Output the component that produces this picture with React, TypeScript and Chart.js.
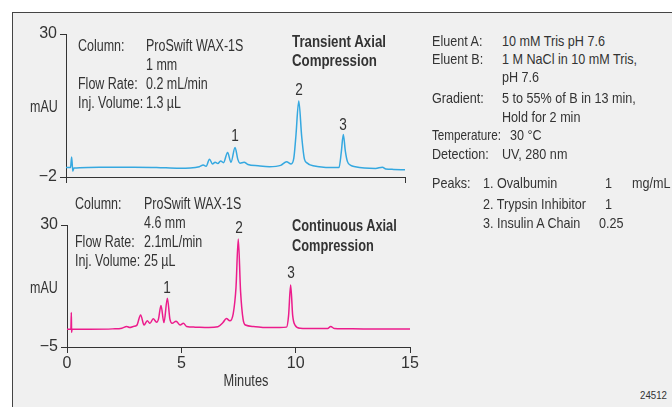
import React, { useEffect, useRef } from "react";
import { Chart, registerables } from "chart.js";

Chart.register(...registerables);

// ---- Data ----
const topTimes = [0, 0.2, 0.25, 0.3, 0.35, 1, 2, 3, 4, 5, 5.5, 5.9, 6.07, 6.2, 6.35, 6.48, 6.6, 6.72, 6.84, 6.97, 7.15, 7.3, 7.48, 7.6, 7.7, 7.88, 8.05, 8.5, 9.0, 9.5, 9.76, 9.96, 10.08, 10.17, 10.3, 10.43, 10.55, 10.68, 10.8, 11.2, 11.8, 12.08, 12.18, 12.27, 12.36, 12.45, 12.6, 12.8, 13.2, 13.7, 14.0, 14.15, 14.5, 15];
const topValues = [0.1, 0.1, 2.5, -0.7, 0.0, 0.15, 0.2, 0.2, 0.15, -0.05, 0.0, 0.3, 0.7, 0.4, 2.0, 0.9, 1.3, 1.0, 1.6, 1.2, 3.5, 1.3, 4.6, 2.0, 1.1, 1.3, 0.8, 0.5, 0.3, 0.6, 1.4, 0.9, 2.2, 7.0, 15.0, 7.0, 2.0, 1.1, 0.7, 0.3, 0.1, 0.1, 3.5, 7.5, 3.8, 1.5, 0.6, 0.3, 0.0, -0.1, 0.2, -0.2, -0.3, -0.4];

const bottomTimes = [0, 0.17, 0.19, 0.2, 0.22, 0.3, 1, 2, 2.4, 2.61, 2.75, 2.9, 3.05, 3.22, 3.37, 3.51, 3.63, 3.77, 3.92, 4.0, 4.11, 4.24, 4.39, 4.5, 4.6, 4.77, 4.95, 5.09, 5.23, 5.6, 6.2, 6.6, 6.82, 6.97, 7.12, 7.27, 7.39, 7.49, 7.59, 7.7, 7.8, 8.15, 8.7, 9.3, 9.6, 9.69, 9.78, 9.87, 9.97, 10.2, 10.8, 11.4, 11.53, 11.7, 12.5, 13.5, 15];
const bottomValues = [0.1, 0.1, 4.9, -0.8, 0.1, 0.1, 0.1, 0.2, 0.4, 0.9, 0.6, 0.9, 1.2, 4.2, 1.3, 2.5, 1.8, 3.1, 2.1, 3.0, 6.9, 2.0, 9.0, 3.0, 1.8, 2.4, 1.3, 1.8, 0.9, 0.7, 0.6, 0.8, 2.0, 3.2, 2.5, 4.6, 12.0, 26.0, 11.0, 3.0, 1.3, 0.9, 0.6, 0.6, 0.7, 4.0, 12.8, 4.0, 1.3, 0.4, 0.3, 0.3, 0.9, 0.3, 0.2, 0.15, 0.15];

const topYTicks = [-2, 30];
const topXTicks = [0, 15];
const bottomYTicks = [-5, 30];
const bottomXTicks = [0, 5, 10, 15];

const FONT = '"Liberation Sans", Arial, sans-serif';
const AXIS = "#333333";

function fmt(v: number) {
  return v < 0 ? "\u2212" + Math.abs(v) : String(v);
}

function makeConfig(
  times: number[],
  values: number[],
  color: string,
  yMin: number,
  yMax: number,
  yTicks: number[],
  xTicks: number[],
  showXLabels: boolean,
  yWidth: number,
  xHeight: number,
  padding: { left: number; right: number; top: number; bottom: number }
): any {
  return {
    type: "line",
    data: {
      datasets: [
        {
          data: times.map((t, i) => ({ x: t, y: values[i] })),
          borderColor: color,
          borderWidth: 1.5,
          pointRadius: 0,
          fill: false,
          cubicInterpolationMode: "monotone",
        },
      ],
    },
    options: {
      responsive: false,
      animation: false,
      devicePixelRatio: 1,
      layout: { padding },
      plugins: { legend: { display: false }, tooltip: { enabled: false } },
      scales: {
        x: {
          type: "linear",
          min: 0,
          max: 15,
          afterBuildTicks: (s: any) => {
            s.ticks = xTicks.map((v) => ({ value: v }));
          },
          afterFit: (s: any) => {
            s.height = xHeight;
          },
          grid: { drawOnChartArea: false, drawTicks: true, tickLength: 6, color: AXIS, lineWidth: 1 },
          border: { display: true, color: AXIS, width: 1 },
          ticks: {
            display: true,
            padding: 1,
            color: AXIS,
            font: { family: FONT, size: 16 },
            maxRotation: 0,
            autoSkip: false,
            callback: (v: any) => (showXLabels ? fmt(Number(v)) : ""),
          },
        },
        y: {
          type: "linear",
          min: yMin,
          max: yMax,
          afterBuildTicks: (s: any) => {
            s.ticks = yTicks.map((v) => ({ value: v }));
          },
          afterFit: (s: any) => {
            s.width = yWidth;
          },
          grid: { drawOnChartArea: false, drawTicks: true, tickLength: 6, color: AXIS, lineWidth: 1 },
          border: { display: true, color: AXIS, width: 1 },
          ticks: {
            padding: 3,
            color: AXIS,
            font: { family: FONT, size: 16 },
            autoSkip: false,
            callback: (v: any) => fmt(Number(v)),
          },
        },
      },
    },
  };
}

function T(props: { x: number; y: number; children: React.ReactNode; bold?: boolean; size?: number; center?: boolean; sx?: number }) {
  const s = props.sx ?? 0.78;
  const style: React.CSSProperties = {
    position: "absolute",
    fontFamily: FONT,
    color: "#333",
    whiteSpace: "nowrap",
    lineHeight: "19px",
    left: props.x,
    top: props.y,
    fontWeight: props.bold ? "bold" : "normal",
    fontSize: props.size ?? 16,
    transform: props.center ? `translateX(-50%) scaleX(${s})` : `scaleX(${s})`,
    transformOrigin: props.center ? "50% 50%" : "0 0",
  };
  return <div style={style}>{props.children}</div>;
}

const RS = 0.84;

export default function App() {
  const topRef = useRef<HTMLCanvasElement | null>(null);
  const botRef = useRef<HTMLCanvasElement | null>(null);

  useEffect(() => {
    const c1 = new Chart(
      topRef.current as HTMLCanvasElement,
      makeConfig(topTimes, topValues, "#35a8e0", -2, 30, topYTicks, topXTicks, false, 66, 7, { left: 0, right: 15, top: 34, bottom: 16 })
    );
    const c2 = new Chart(
      botRef.current as HTMLCanvasElement,
      makeConfig(bottomTimes, bottomValues, "#ec1c8c", -5, 30, bottomYTicks, bottomXTicks, true, 67, 30, { left: 0, right: 20, top: 35, bottom: 30 })
    );
    return () => {
      c1.destroy();
      c2.destroy();
    };
  }, []);

  return (
    <div style={{ position: "fixed", left: 0, top: 0, width: 672, height: 407, background: "#fff", overflow: "hidden" }}>
      <div
        style={{
          position: "absolute",
          left: 12,
          top: 12,
          width: 700,
          height: 420,
          background: "#f0f0f0",
          borderLeft: "1px solid #444",
          borderTop: "1px solid #444",
        }}
      />
      <canvas ref={topRef} width={420} height={200} style={{ position: "absolute", left: 0, top: 0, width: 420, height: 200 }} />
      <canvas ref={botRef} width={430} height={217} style={{ position: "absolute", left: 0, top: 190, width: 430, height: 217 }} />

      {/* Top chart annotations */}
      <T x={30} y={97}>mAU</T>
      <T x={78} y={36}>Column:</T>
      <T x={146} y={36}>ProSwift WAX-1S</T>
      <T x={146} y={55}>1 mm</T>
      <T x={78} y={74}>Flow Rate:</T>
      <T x={146} y={74}>0.2 mL/min</T>
      <T x={78} y={93}>Inj. Volume:</T>
      <T x={146} y={93}>1.3 µL</T>
      <T x={292} y={32} bold sx={0.83}>Transient Axial</T>
      <T x={292} y={51} bold sx={0.83}>Compression</T>
      <T x={235} y={126} center sx={0.85}>1</T>
      <T x={299} y={80} center sx={0.85}>2</T>
      <T x={343} y={115} center sx={0.85}>3</T>

      {/* Bottom chart annotations */}
      <T x={30} y={278}>mAU</T>
      <T x={75} y={194}>Column:</T>
      <T x={144} y={194}>ProSwift WAX-1S</T>
      <T x={144} y={213}>4.6 mm</T>
      <T x={75} y={232}>Flow Rate:</T>
      <T x={144} y={232}>2.1mL/min</T>
      <T x={75} y={251}>Inj. Volume:</T>
      <T x={144} y={251}>25 µL</T>
      <T x={292} y={216} bold sx={0.8}>Continuous Axial</T>
      <T x={292} y={236} bold sx={0.8}>Compression</T>
      <T x={167} y={278} center sx={0.85}>1</T>
      <T x={239} y={218} center sx={0.85}>2</T>
      <T x={291} y={263} center sx={0.85}>3</T>
      <T x={246} y={371} center sx={0.8}>Minutes</T>

      {/* Conditions */}
      <T x={432} y={31} size={15} sx={RS}>Eluent A:</T>
      <T x={502} y={31} size={15} sx={RS}>10 mM Tris pH 7.6</T>
      <T x={432} y={49} size={15} sx={RS}>Eluent B:</T>
      <T x={502} y={49} size={15} sx={RS}>1 M NaCl in 10 mM Tris,</T>
      <T x={502} y={67} size={15} sx={RS}>pH 7.6</T>
      <T x={432} y={88} size={15} sx={RS}>Gradient:</T>
      <T x={502} y={88} size={15} sx={RS}>5 to 55% of B in 13 min,</T>
      <T x={502} y={107} size={15} sx={RS}>Hold for 2 min</T>
      <T x={432} y={125} size={15} sx={0.78}>Temperature:</T>
      <T x={510} y={125} size={15} sx={RS}>30 °C</T>
      <T x={432} y={144} size={15} sx={RS}>Detection:</T>
      <T x={502} y={144} size={15} sx={RS}>UV, 280 nm</T>
      <T x={432} y={173} size={15} sx={RS}>Peaks:</T>
      <T x={483} y={173} size={15} sx={RS}>1. Ovalbumin</T>
      <T x={605} y={173} size={15} sx={RS}>1</T>
      <T x={632} y={173} size={15} sx={RS}>mg/mL</T>
      <T x={483} y={194} size={15} sx={RS}>2. Trypsin Inhibitor</T>
      <T x={605} y={194} size={15} sx={RS}>1</T>
      <T x={483} y={213} size={15} sx={RS}>3. Insulin A Chain</T>
      <T x={599} y={213} size={15} sx={RS}>0.25</T>
      <T x={640} y={386} size={11} sx={0.88}>24512</T>
    </div>
  );
}
